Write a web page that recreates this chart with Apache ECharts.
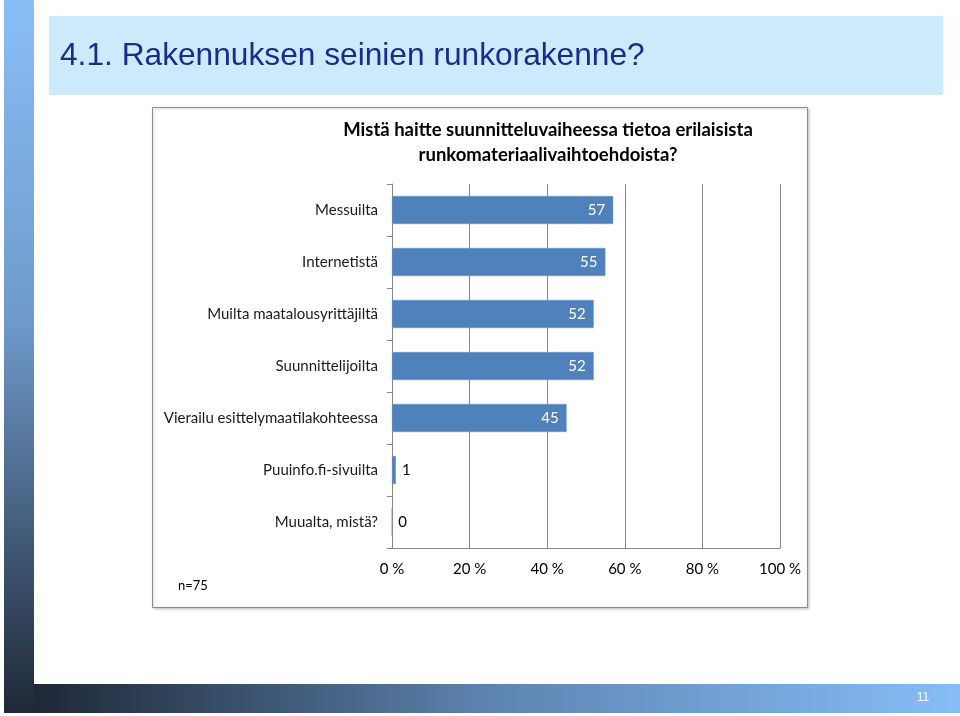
<!DOCTYPE html>
<html><head><meta charset="utf-8">
<script src="https://cdn.jsdelivr.net/npm/echarts@6/dist/echarts.min.js"></script>
<style>html,body{margin:0;padding:0;background:#fff}#c{width:960px;height:716px}</style>
</head><body><div id="c"></div>
<script>
const categories = ['Messuilta','Internetistä','Muilta maatalousyrittäjiltä','Suunnittelijoilta','Vierailu esittelymaatilakohteessa','Puuinfo.fi-sivuilta','Muualta, mistä?'];
const values = [57,55,52,52,45,1,0];
const xTicks = [0,20,40,60,80,100];
const slideTitle = '4.1. Rakennuksen seinien runkorakenne?';
const chartTitle = 'Mistä haitte suunnitteluvaiheessa tietoa erilaisista\nrunkomateriaalivaihtoehdoista?';
const note = 'n=75';
const pageNo = '11';

const F = 'Lato, "Open Sans", sans-serif';
const chart = echarts.init(document.getElementById('c'));
chart.setOption({
  animation:false,
  graphic:[
    {type:'rect',shape:{x:4,y:0,width:30,height:713},style:{fill:new echarts.graphic.LinearGradient(0,0,0,1,[{offset:0,color:'#89BEF5'},{offset:0.45,color:'#6F9ACB'},{offset:1,color:'#1E2836'}])},z:0},
    {type:'rect',shape:{x:34,y:684,width:926,height:29},style:{fill:new echarts.graphic.LinearGradient(0,0,1,0,[{offset:0,color:'#1E2836'},{offset:0.5,color:'#5E85B2'},{offset:1,color:'#86BDF6'}])},z:0},
    {type:'text',style:{x:923,y:698,text:pageNo,fill:'#ffffff',font:'12px "Liberation Sans", sans-serif',align:'center',verticalAlign:'middle'},z:2},
    {type:'rect',shape:{x:49,y:16,width:894,height:79},style:{fill:'#CCEAFB'},z:0},
    {type:'text',x:60,y:56,style:{x:0,y:0,text:slideTitle,fill:'#1B2A8C',font:'32px "Liberation Sans", Arial, sans-serif',verticalAlign:'middle'},scaleX:0.99,z:2},
    {type:'rect',shape:{x:152.5,y:107.5,width:655,height:500},style:{fill:'#ffffff',stroke:'#8C8C8C',lineWidth:1,shadowBlur:3,shadowColor:'rgba(0,0,0,0.25)',shadowOffsetX:1,shadowOffsetY:1},z:0},
    {type:'text',style:{x:548,y:143,text:chartTitle,fill:'#000000',font:'bold 18.5px '+F,align:'center',verticalAlign:'middle',lineHeight:25},z:2},
    {type:'text',style:{x:178,y:586,text:note,fill:'#000000',font:'13px '+F,verticalAlign:'middle'},z:2}
  ],
  grid:{left:392,right:180,top:184,bottom:168,containLabel:false},
  xAxis:{type:'value',min:0,max:100,interval:20,
    axisLine:{show:true,lineStyle:{color:'#888'}},
    axisTick:{show:false},
    splitLine:{show:true,lineStyle:{color:'#888',width:1}},
    axisLabel:{formatter:v=>v+' %',color:'#000',fontFamily:F,fontSize:15,margin:14}},
  yAxis:{type:'category',inverse:true,data:categories,
    axisLine:{show:true,lineStyle:{color:'#888'}},
    axisTick:{show:true,length:5,lineStyle:{color:'#888'}},
    axisLabel:{color:'#1a1a1a',fontFamily:F,fontSize:15,margin:14}},
  series:[{type:'bar',barWidth:28,
    data:values.map(v=>({value:v,label:v>=10?{position:'insideRight',color:'#fff',distance:8}:{position:'right',color:'#000',distance:6}})),
    itemStyle:{color:'#4F81BD',borderColor:'#6A95C8',borderWidth:0.5},
    label:{show:true,fontFamily:F,fontSize:15}}]
});
</script></body></html>
